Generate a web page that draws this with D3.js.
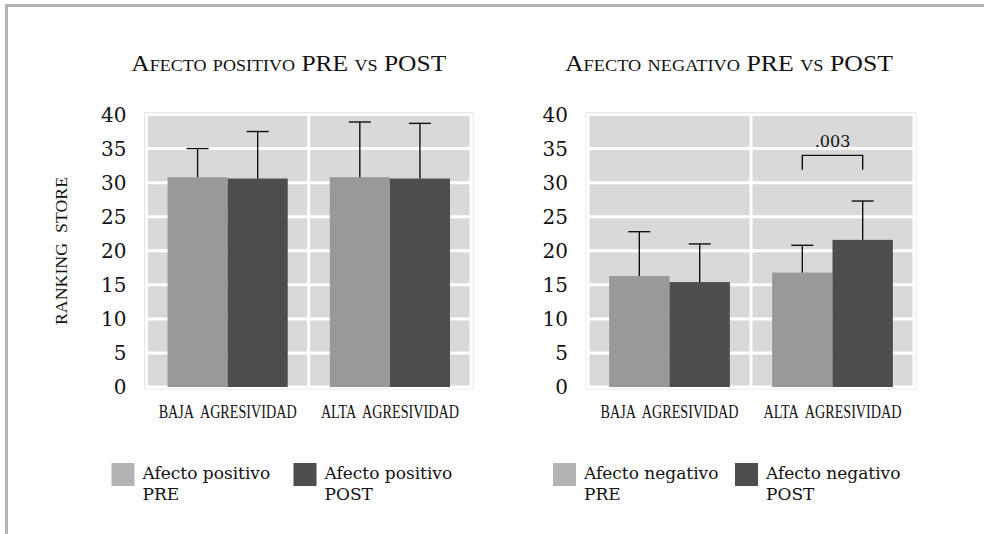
<!DOCTYPE html>
<html>
<head>
<meta charset="utf-8">
<script src="https://cdn.jsdelivr.net/npm/d3@7"></script>
<style>
  body { margin: 0; background: #fff; }
  svg { display: block; }
  .title { font-family: "Liberation Serif", serif; font-variant: small-caps; }
  .tick-label { font-family: "DejaVu Serif", serif; }
  .cat-label { font-family: "Liberation Serif", serif; word-spacing: 5px; }
  .legend-label { font-family: "DejaVu Serif", serif; }
</style>
</head>
<body>
<svg id="chart" width="984" height="534"></svg>
<script>
// data
const categories = ['BAJA AGRESIVIDAD', 'ALTA AGRESIVIDAD'];
const yTicks = [0, 5, 10, 15, 20, 25, 30, 35, 40];

const positivoPre = [30.8, 30.8];
const positivoPreErr = [4.2, 8.1];
const positivoPost = [30.6, 30.6];
const positivoPostErr = [6.9, 8.1];

const negativoPre = [16.3, 16.8];
const negativoPreErr = [6.5, 4.0];
const negativoPost = [15.4, 21.6];
const negativoPostErr = [5.6, 5.7];

const negativoSignif = [{ category: 'ALTA AGRESIVIDAD', label: '.003', top: 34, bottom: 31.9 }];

const seriesColors = ['#999999', '#4d4d4d'];
const legendColors = ['#b3b3b3', '#4d4d4d'];

class GroupedBars {

  constructor(_config, _data) {
    this.config = {
      parentElement: _config.parentElement,
      left: _config.left,
      right: _config.right,
      top: 114.5,
      bottom: 387,
      title: _config.title,
      titleShift: _config.titleShift || 0,
      titleWidth: _config.titleWidth || 315,
      yLabel: _config.yLabel,
      legend: _config.legend,
      signif: _config.signif || []
    };
    this.data = _data;
    this.initVis();
  }

  initVis() {
    let vis = this;

    vis.chart = d3.select(vis.config.parentElement).append('g');

    vis.y = d3.scaleLinear()
      .domain([0, 40])
      .range([vis.config.bottom, vis.config.top]);

    vis.x = d3.scaleBand()
      .domain(categories)
      .range([vis.config.left, vis.config.right])
      .padding(0);

    vis.xSub = d3.scaleBand()
      .domain([0, 1])
      .range([0, vis.x.bandwidth()])
      .paddingOuter(0.35)
      .paddingInner(0);

    // plot background
    vis.chart.append('rect')
      .attr('x', vis.config.left - 2)
      .attr('y', vis.config.top - 2)
      .attr('width', vis.config.right - vis.config.left + 4)
      .attr('height', vis.config.bottom - vis.config.top + 4)
      .attr('fill', 'none')
      .attr('stroke', '#e6e6e6')
      .attr('stroke-width', 1);

    vis.chart.append('rect')
      .attr('x', vis.config.left)
      .attr('y', vis.config.top)
      .attr('width', vis.config.right - vis.config.left)
      .attr('height', vis.config.bottom - vis.config.top)
      .attr('fill', '#d9d9d9');

    vis.chart.selectAll('.hgrid')
      .data(yTicks)
      .join('line')
      .attr('class', 'hgrid')
      .attr('x1', vis.config.left)
      .attr('x2', vis.config.right)
      .attr('y1', d => vis.y(d))
      .attr('y2', d => vis.y(d))
      .attr('stroke', '#fff')
      .attr('stroke-width', 3);

    let vlines = [vis.config.left, vis.config.right].concat(categories.slice(1).map(c => vis.x(c)));
    vis.chart.selectAll('.vgrid')
      .data(vlines)
      .join('line')
      .attr('class', 'vgrid')
      .attr('x1', d => d)
      .attr('x2', d => d)
      .attr('y1', vis.config.top)
      .attr('y2', vis.config.bottom)
      .attr('stroke', '#fff')
      .attr('stroke-width', 3);

    // tick labels
    vis.chart.selectAll('.tick-label')
      .data(yTicks)
      .join('text')
      .attr('class', 'tick-label')
      .attr('x', vis.config.left - 20)
      .attr('y', d => vis.y(d))
      .attr('dy', '0.36em')
      .attr('text-anchor', 'end')
      .attr('font-size', 20)
      .attr('fill', '#111')
      .text(d => d);

    vis.chart.selectAll('.cat-label')
      .data(categories)
      .join('text')
      .attr('class', 'cat-label')
      .attr('x', d => vis.x(d) + vis.x.bandwidth() / 2)
      .attr('y', 418)
      .attr('text-anchor', 'middle')
      .attr('font-size', 18)
      .attr('textLength', 138)
      .attr('lengthAdjust', 'spacingAndGlyphs')
      .attr('fill', '#111')
      .text(d => d);

    vis.chart.append('text')
      .attr('class', 'title')
      .attr('x', (vis.config.left + vis.config.right) / 2 + vis.config.titleShift)
      .attr('y', 71)
      .attr('text-anchor', 'middle')
      .attr('font-size', 24)
      .attr('textLength', vis.config.titleWidth)
      .attr('lengthAdjust', 'spacingAndGlyphs')
      .attr('fill', '#111')
      .text(vis.config.title);

    if (vis.config.yLabel) {
      vis.chart.append('text')
        .attr('class', 'cat-label')
        .attr('transform', `translate(${vis.config.left - 80}, 251) rotate(-90)`)
        .attr('text-anchor', 'middle')
        .attr('font-size', 16)
        .attr('textLength', 148)
        .attr('lengthAdjust', 'spacingAndGlyphs')
        .attr('fill', '#111')
        .text(vis.config.yLabel);
    }

    vis.updateVis();
  }

  updateVis() {
    let vis = this;

    let rows = [];
    vis.data.forEach((s, si) => {
      s.values.forEach((v, i) => {
        rows.push({ cat: categories[i], s: si, value: v, err: s.errors[i] });
      });
    });

    let barX = d => vis.x(d.cat) + vis.xSub(d.s);
    let mid = d => barX(d) + vis.xSub.bandwidth() / 2;

    vis.chart.selectAll('.bar')
      .data(rows)
      .join('rect')
      .attr('class', 'bar')
      .attr('x', barX)
      .attr('width', vis.xSub.bandwidth())
      .attr('y', d => vis.y(d.value))
      .attr('height', d => vis.y(0) - vis.y(d.value))
      .attr('fill', d => seriesColors[d.s]);

    let cap = 11;
    let eb = vis.chart.selectAll('.err')
      .data(rows)
      .join('g')
      .attr('class', 'err')
      .attr('stroke', '#111')
      .attr('stroke-width', 1.4);

    eb.append('line')
      .attr('x1', mid)
      .attr('x2', mid)
      .attr('y1', d => vis.y(d.value))
      .attr('y2', d => vis.y(d.value + d.err));

    eb.append('line')
      .attr('x1', d => mid(d) - cap)
      .attr('x2', d => mid(d) + cap)
      .attr('y1', d => vis.y(d.value + d.err))
      .attr('y2', d => vis.y(d.value + d.err));

    // significance brackets
    vis.config.signif.forEach(sg => {
      let xa = vis.x(sg.category) + vis.xSub(0) + vis.xSub.bandwidth() / 2;
      let xb = vis.x(sg.category) + vis.xSub(1) + vis.xSub.bandwidth() / 2;
      vis.chart.append('path')
        .attr('d', `M${xa},${vis.y(sg.bottom)}V${vis.y(sg.top)}H${xb}V${vis.y(sg.bottom)}`)
        .attr('fill', 'none')
        .attr('stroke', '#111')
        .attr('stroke-width', 1.4);
      vis.chart.append('text')
        .attr('class', 'tick-label')
        .attr('x', (xa + xb) / 2)
        .attr('y', vis.y(sg.top) - 8)
        .attr('text-anchor', 'middle')
        .attr('font-size', 16)
        .attr('fill', '#111')
        .text(sg.label);
    });

    // legend
    let lg = vis.chart.selectAll('.legend')
      .data(vis.config.legend)
      .join('g')
      .attr('class', 'legend')
      .attr('transform', (d, i) => `translate(${vis.config.left - 35 + i * 182}, 463)`);

    lg.append('rect')
      .attr('width', 23)
      .attr('height', 23)
      .attr('fill', (d, i) => legendColors[i]);

    let lt = lg.append('text')
      .attr('class', 'legend-label')
      .attr('font-size', 17)
      .attr('fill', '#111');
    lt.append('tspan').attr('x', 31).attr('y', 16).text(d => d[0]);
    lt.append('tspan').attr('x', 31).attr('y', 37).text(d => d[1]);
  }
}

const svg = d3.select('#chart');

// outer frame
svg.append('path')
  .attr('d', 'M6.5,534V5.5H984')
  .attr('fill', 'none')
  .attr('stroke', '#b5b5b5')
  .attr('stroke-width', 3);

new GroupedBars({
  parentElement: '#chart',
  left: 146.5,
  right: 471,
  title: 'Afecto positivo PRE vs POST',
  titleShift: -20,
  titleWidth: 315,
  yLabel: 'RANKING STORE',
  legend: [['Afecto positivo', 'PRE'], ['Afecto positivo', 'POST']]
}, [
  { values: positivoPre, errors: positivoPreErr },
  { values: positivoPost, errors: positivoPostErr }
]);

new GroupedBars({
  parentElement: '#chart',
  left: 588,
  right: 914,
  title: 'Afecto negativo PRE vs POST',
  titleShift: -22,
  titleWidth: 328,
  yLabel: null,
  legend: [['Afecto negativo', 'PRE'], ['Afecto negativo', 'POST']],
  signif: negativoSignif
}, [
  { values: negativoPre, errors: negativoPreErr },
  { values: negativoPost, errors: negativoPostErr }
]);
</script>
</body>
</html>
